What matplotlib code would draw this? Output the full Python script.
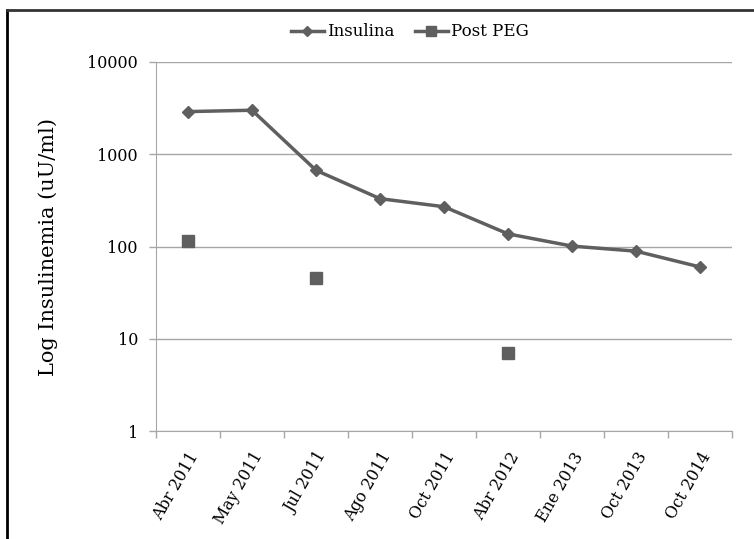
import matplotlib
matplotlib.use("Agg")
import matplotlib.pyplot as plt
from matplotlib.lines import Line2D
from matplotlib.ticker import FixedLocator, NullFormatter, NullLocator

# data
fechas = ["Abr 2011", "May 2011", "Jul 2011", "Ago 2011", "Oct 2011",
          "Abr 2012", "Ene 2013", "Oct 2013", "Oct 2014"]
insulina = [2900, 3000, 670, 330, 270, 137, 101, 89, 60]
post_peg_fechas = ["Abr 2011", "Jul 2011", "Abr 2012"]
post_peg = [115, 45, 7]
y_ticks = [1, 10, 100, 1000, 10000]

GREY = "#5f5f5f"
GRID = "#a6a6a6"

plt.rcParams["font.family"] = ["DejaVu Serif"]

fig = plt.figure(figsize=(7.54, 5.39), dpi=100)
ax = fig.add_axes([156 / 754, 1 - 431 / 539, 576 / 754, 369 / 539])

x = list(range(len(fechas)))
ax.plot(x, insulina, color=GREY, lw=2.5, marker="D", ms=6.5, label="Insulina")
xp = [fechas.index(f) for f in post_peg_fechas]
ax.plot(xp, post_peg, color=GREY, lw=0, marker="s", ms=8, label="Post PEG")

ax.set_yscale("log")
ax.set_ylim(1, 10000)
ax.set_xlim(-0.5, len(fechas) - 0.5)
ax.yaxis.set_major_locator(FixedLocator(y_ticks))
ax.yaxis.set_minor_locator(NullLocator())
ax.set_yticklabels([str(v) for v in y_ticks], fontsize=11.5)
ax.yaxis.grid(True, color=GRID, lw=1)
ax.set_axisbelow(True)

ax.set_xticks(x)
ax.set_xticklabels(fechas, rotation=60, ha="right", rotation_mode="anchor", fontsize=11.5)
ax.tick_params(axis="x", which="major", length=0, pad=13)
ax.set_xticks([i - 0.5 for i in range(len(fechas) + 1)], minor=True)
ax.xaxis.set_minor_formatter(NullFormatter())
ax.tick_params(axis="x", which="minor", length=5, color=GRID, width=1)
ax.tick_params(axis="y", length=5, color=GRID, width=1, pad=8)

for s in ["top", "right"]:
    ax.spines[s].set_visible(False)
for s in ["left", "bottom"]:
    ax.spines[s].set_color(GRID)

ax.set_ylabel("Log Insulinemia (uU/ml)", fontsize=15, labelpad=21)

handles = [
    Line2D([], [], color=GREY, lw=2.5, marker="D", ms=5.5),
    Line2D([], [], color=GREY, lw=2.5, marker="s", ms=7),
]
fig.legend(handles, ["Insulina", "Post PEG"], loc="center", bbox_to_anchor=(410 / 754, 1 - 32 / 539),
           ncol=2, frameon=False, fontsize=12, handlelength=2.0, handletextpad=0.2, columnspacing=1.2)

# outer frame as in the original figure
fig.add_artist(Line2D([7 / 754, 7 / 754], [0, 1 - 10 / 539], color="black", lw=2))
fig.add_artist(Line2D([7 / 754, 1], [1 - 10 / 539, 1 - 10 / 539], color="#333333", lw=2))

fig.savefig("out.png", dpi=100)
